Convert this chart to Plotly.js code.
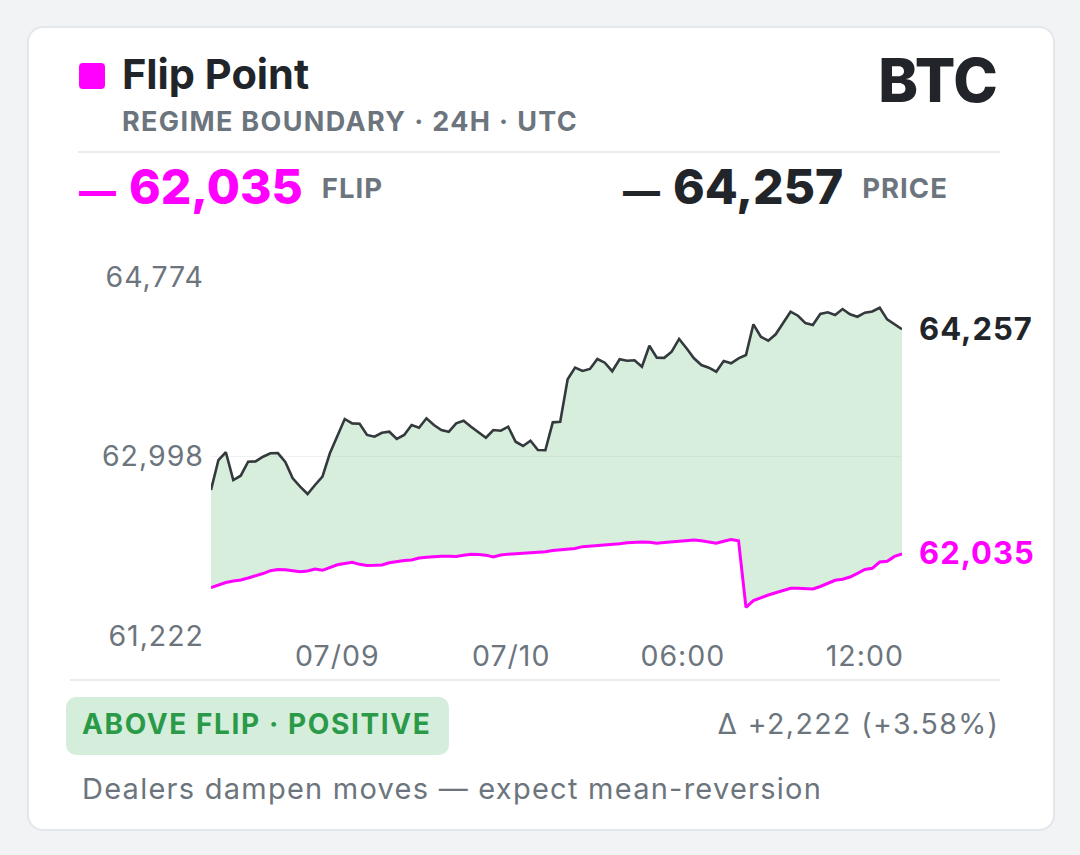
<!DOCTYPE html>
<html>
<head>
<meta charset="utf-8">
<script src="https://cdn.plot.ly/plotly-3.0.1.min.js"></script>
<style>
  html, body { margin: 0; padding: 0; width: 1080px; height: 855px; overflow: hidden;
    background: #f1f3f5; font-family: Inter, "Noto Sans", sans-serif; }
  .card { position: absolute; left: 27px; top: 26px; width: 1024px; height: 801px;
    background: #ffffff; border: 2px solid #e3e6ea; border-radius: 16px; }
  #chart { position: absolute; left: 0; top: 0; width: 1080px; height: 855px; }
  #chart .xtick text, #chart .ytick text, #chart .annotation-text { letter-spacing: 1px; }
  .t { position: absolute; white-space: nowrap; line-height: 1; }
  .rule { position: absolute; height: 2px; background: #e9ecef; }
  .swatch { position: absolute; left: 79px; top: 63px; width: 26px; height: 26px;
    border-radius: 4px; background: #ff00ff; }
  .badge { position: absolute; left: 66px; top: 697px; width: 383px; height: 58px;
    border-radius: 10px; background: #d5eddb; }
  .dash { font-size: 37px; margin-right: 13px; }
  .num { font-size: 48px; }
  .tag { font-size: 27.5px; font-weight: 700; color: #6c757d; margin-left: 19px;
    letter-spacing: 1px; vertical-align: 6px; }
</style>
</head>
<body>
<div class="card"></div>
<div id="chart"></div>

<div class="swatch"></div>
<div class="t" style="left:122px; top:54px; font-size:41.5px; font-weight:700; color:#212529;">Flip Point</div>
<div class="t" style="left:122px; top:107.5px; font-size:27px; font-weight:700; color:#6c757d; letter-spacing:1.35px;">REGIME BOUNDARY · 24H · UTC</div>
<div class="t" style="right:82px; top:50px; font-size:60px; font-weight:800; color:#212529;">BTC</div>
<div class="rule" style="left:78px; top:151px; width:922px;"></div>

<div class="t" id="flipHead" style="left:79px; top:163px; font-weight:800; color:#ff00ff;"></div>
<div class="t" id="priceHead" style="left:623px; top:163px; font-weight:800; color:#212529;"></div>

<div class="rule" style="left:70px; top:679px; width:930px;"></div>
<div class="badge"></div>
<div class="t" style="left:82px; top:710px; font-size:28px; font-weight:700; color:#2b9a48; letter-spacing:1.6px;">ABOVE FLIP · POSITIVE</div>
<div class="t" id="delta" style="right:80.6px; top:710px; font-size:28.5px; font-weight:400; color:#6c757d; letter-spacing:1.4px;"></div>
<div class="t" style="left:82px; top:773.5px; font-size:29px; font-weight:400; color:#6c757d; letter-spacing:1.25px;">Dealers dampen moves — expect mean-reversion</div>

<script>
// BTC spot price over the last 24h (USD)
const PRICE = [
  62667, 62963, 63040, 62765, 62808, 62947, 62950, 62996, 63030, 63032,
  62945, 62782, 62699, 62627, 62716, 62798, 63030, 63194, 63369, 63326,
  63322, 63211, 63194, 63233, 63243, 63171, 63211, 63310, 63283, 63376,
  63310, 63260, 63243, 63326, 63352, 63293, 63240, 63184, 63260, 63253,
  63293, 63144, 63102, 63154, 63062, 63060, 63336, 63342, 63762, 63877,
  63844, 63864, 63963, 63926, 63842, 63960, 63946, 63950, 63886, 64094,
  63976, 63974, 64035, 64161, 64069, 63970, 63903, 63877, 63837, 63943,
  63920, 63969, 64002, 64306, 64183, 64144, 64207, 64316, 64431, 64391,
  64318, 64299, 64408, 64425, 64398, 64457, 64405, 64381, 64421, 64433,
  64470, 64355, 64303, 64257
];

// Gamma flip level over the same window (USD)
const FLIP = [
  61702, 61727, 61751, 61766, 61776, 61796, 61816, 61840, 61868, 61880,
  61878, 61870, 61858, 61865, 61885, 61872, 61902, 61927, 61939, 61951,
  61931, 61920, 61921, 61925, 61947, 61961, 61969, 61974, 61994, 62001,
  62007, 62012, 62010, 62009, 62021, 62030, 62028, 62022, 62004, 62023,
  62032, 62037, 62043, 62048, 62050, 62055, 62068, 62073, 62080, 62088,
  62106, 62111, 62116, 62121, 62126, 62134, 62144, 62150, 62152, 62149,
  62139, 62147, 62154, 62164, 62169, 62172, 62165, 62152, 62140, 62159,
  62177, 62165, 61506, 61573, 61603, 61628, 61650, 61674, 61694, 61695,
  61692, 61687, 61712, 61741, 61773, 61783, 61806, 61842, 61880, 61892,
  61954, 61961, 62009, 62035
];

// Time axis labels and the sample index each one sits on
const TICK_TEXT = ['07/09', '07/10', '06:00', '12:00'];
const TICK_INDEX = [17, 40.4, 63.5, 88];

// Y axis: low / mid / high guide levels
const Y_TICKS = [61222, 62998, 64774];

const fmt = v => Math.round(v).toLocaleString('en-US');
const idx = PRICE.map((_, i) => i);
const last = PRICE.length - 1;
const lastPrice = PRICE[last];
const lastFlip = FLIP[last];
const diff = lastPrice - lastFlip;
const pct = diff / lastFlip * 100;

const MAGENTA = '#ff00ff';
const INK = '#212529';
const MUTED = '#6c757d';

function headline(value, tag) {
  return '<span class="dash">—</span><span class="num">' + fmt(value) +
    '</span><span class="tag">' + tag + '</span>';
}
document.getElementById('flipHead').innerHTML = headline(lastFlip, 'FLIP');
document.getElementById('priceHead').innerHTML = headline(lastPrice, 'PRICE');
document.getElementById('delta').textContent =
  'Δ +' + fmt(diff) + ' (+' + pct.toFixed(2) + '%)';

const traces = [
  {
    x: idx, y: FLIP, type: 'scatter', mode: 'lines', name: 'Flip',
    line: { color: MAGENTA, width: 3 }, hoverinfo: 'skip'
  },
  {
    x: idx, y: PRICE, type: 'scatter', mode: 'lines', name: 'Price',
    fill: 'tonexty', fillcolor: 'rgba(160, 215, 175, 0.42)',
    line: { color: '#33393d', width: 2.6 }, hoverinfo: 'skip'
  }
];

const layout = {
  width: 1080, height: 855,
  margin: { l: 211, r: 178, t: 277, b: 219 },
  paper_bgcolor: 'rgba(0,0,0,0)',
  plot_bgcolor: 'rgba(0,0,0,0)',
  showlegend: false,
  font: { family: 'Inter, "Noto Sans", sans-serif', color: MUTED },
  xaxis: {
    range: [0, last], showgrid: false, zeroline: false, showline: false,
    tickmode: 'array', tickvals: TICK_INDEX, ticktext: TICK_TEXT,
    ticks: '', tickfont: { size: 28.5, color: MUTED }, ticklabelstandoff: 0
  },
  yaxis: {
    range: [Y_TICKS[0], Y_TICKS[2]], showgrid: true, gridcolor: '#eef0f2', gridwidth: 1,
    zeroline: false, showline: false,
    tickmode: 'array', tickvals: Y_TICKS, ticktext: Y_TICKS.map(fmt),
    ticks: '', tickfont: { size: 28.5, color: MUTED }, ticklabelstandoff: 6
  },
  annotations: [
    {
      xref: 'x', yref: 'y', x: last, y: lastPrice, text: fmt(lastPrice),
      xanchor: 'left', yanchor: 'middle', xshift: 18, yshift: 1, showarrow: false,
      font: { size: 31, color: INK, weight: 700 }
    },
    {
      xref: 'x', yref: 'y', x: last, y: lastFlip, text: fmt(lastFlip),
      xanchor: 'left', yanchor: 'middle', xshift: 18, yshift: 1, showarrow: false,
      font: { size: 31, color: MAGENTA, weight: 700 }
    }
  ]
};

Plotly.newPlot('chart', traces, layout, { staticPlot: true, displayModeBar: false });
</script>
</body>
</html>
